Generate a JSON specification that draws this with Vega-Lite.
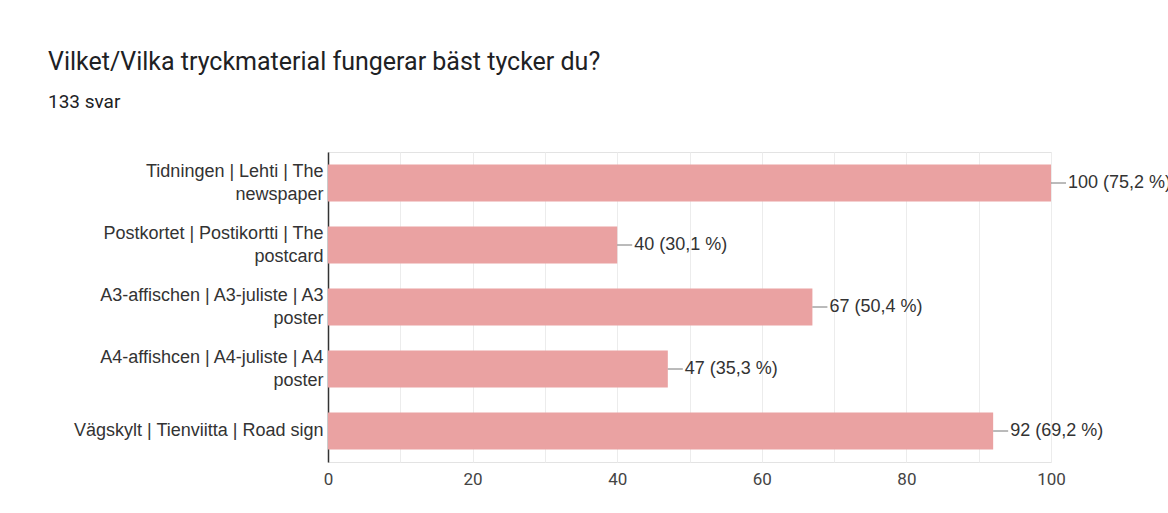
{
  "$schema": "https://vega.github.io/schema/vega-lite/v6.json",
  "autosize": "none",
  "width": 723,
  "height": 310,
  "padding": {"left": 328, "top": 152, "right": 117, "bottom": 51},
  "background": "white",
  "title": {
    "text": "Vilket/Vilka tryckmaterial fungerar bäst tycker du?",
    "subtitle": "133 svar",
    "anchor": "start",
    "frame": "group",
    "dx": -280,
    "offset": 40,
    "font": "Roboto",
    "fontSize": 25,
    "fontWeight": "normal",
    "color": "#202124",
    "subtitleFont": "Roboto",
    "subtitleFontSize": 19,
    "subtitleColor": "#202124",
    "subtitlePadding": 18
  },
  "data": {
    "values": [
      {"option": "Tidningen | Lehti | The\nnewspaper", "count": 100, "label": "100 (75,2 %)"},
      {"option": "Postkortet | Postikortti | The\npostcard", "count": 40, "label": "40 (30,1 %)"},
      {"option": "A3-affischen | A3-juliste | A3\nposter", "count": 67, "label": "67 (50,4 %)"},
      {"option": "A4-affishcen | A4-juliste | A4\nposter", "count": 47, "label": "47 (35,3 %)"},
      {"option": "Vägskylt | Tienviitta | Road sign", "count": 92, "label": "92 (69,2 %)"}
    ]
  },
  "encoding": {
    "y": {
      "field": "option",
      "type": "nominal",
      "sort": null,
      "title": null,
      "scale": {"paddingInner": 0.4, "paddingOuter": 0.2},
      "axis": {
        "labelExpr": "split(datum.label, '\\n')",
        "labelOffset": {"condition": {"test": "indexof(datum.value, '\\n') >= 0", "value": -11.5}, "value": 0},
        "labelFont": "Liberation Sans",
        "labelFontSize": 18,
        "labelColor": "#333333",
        "labelLineHeight": 23,
        "labelPadding": 5,
        "ticks": false,
        "domainColor": "#333333",
        "domainWidth": 1.5,
        "labelLimit": 400
      }
    }
  },
  "layer": [
    {
      "mark": {"type": "bar", "color": "#eaa2a2"},
      "encoding": {
        "x": {
          "field": "count",
          "type": "quantitative",
          "title": null,
          "scale": {"domain": [0, 100], "nice": false},
          "axis": {
            "values": [0, 10, 20, 30, 40, 50, 60, 70, 80, 90, 100],
            "labelExpr": "datum.value % 20 == 0 ? datum.label : ''",
            "labelFont": "Roboto",
            "labelFontSize": 17,
            "labelColor": "#444444",
            "labelPadding": 9,
            "ticks": false,
            "domain": false,
            "gridColor": "#ececec",
            "labelFlush": false
          }
        }
      }
    },
    {
      "mark": {"type": "rule", "color": "#777777", "x2Offset": 15, "strokeWidth": 1},
      "encoding": {
        "x": {"field": "count", "type": "quantitative"},
        "x2": {"field": "count"}
      }
    },
    {
      "mark": {"type": "text", "align": "left", "baseline": "middle", "dx": 17, "font": "Liberation Sans", "fontSize": 18, "color": "#333333"},
      "encoding": {
        "x": {"field": "count", "type": "quantitative"},
        "text": {"field": "label"}
      }
    }
  ],
  "config": {
    "view": {"stroke": "#e3e3e3"}
  }
}
